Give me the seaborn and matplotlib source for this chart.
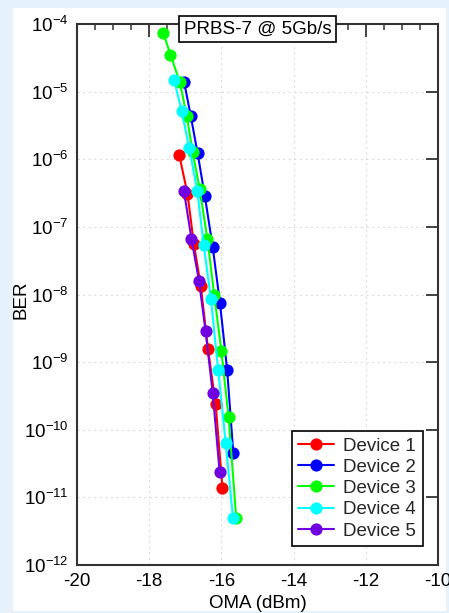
import numpy as np
import pandas as pd
import matplotlib
matplotlib.use("Agg")
import matplotlib.pyplot as plt
import seaborn as sns
from matplotlib.ticker import MultipleLocator, NullLocator, LogLocator
from matplotlib.patches import Rectangle

# ---- data ----
devices = ["Device 1", "Device 2", "Device 3", "Device 4", "Device 5"]
colors = ["#FF0000", "#0000FF", "#00FF00", "#00FFFF", "#7000E0"]

oma_d1 = [-17.17, -16.94, -16.76, -16.57, -16.37, -16.16, -15.97]
ber_d1 = [1.17e-6, 3.1e-7, 5.5e-8, 1.33e-8, 1.55e-9, 2.4e-10, 1.37e-11]

oma_d2 = [-17.03, -16.85, -16.66, -16.46, -16.24, -16.04, -15.84, -15.67]
ber_d2 = [1.37e-5, 4.4e-6, 1.23e-6, 2.9e-7, 5.0e-8, 7.5e-9, 7.6e-10, 4.5e-11]

oma_d3 = [-17.61, -17.41, -17.15, -16.96, -16.80, -16.60, -16.39, -16.20, -16.00, -15.80, -15.59]
ber_d3 = [7.4e-5, 3.5e-5, 1.37e-5, 4.4e-6, 1.3e-6, 3.6e-7, 6.7e-8, 1.0e-8, 1.45e-9, 1.53e-10, 5.0e-12]

oma_d4 = [-17.31, -17.10, -16.89, -16.67, -16.49, -16.29, -16.09, -15.88, -15.68]
ber_d4 = [1.49e-5, 5.1e-6, 1.47e-6, 3.45e-7, 5.4e-8, 8.5e-9, 7.7e-10, 6.3e-11, 5.0e-12]

oma_d5 = [-17.04, -16.83, -16.62, -16.44, -16.24, -16.05]
ber_d5 = [3.45e-7, 6.7e-8, 1.58e-8, 2.9e-9, 3.5e-10, 2.4e-11]

x_ticks = [-20, -18, -16, -14, -12, -10]
title_text = "PRBS-7 @ 5Gb/s"
x_label = "OMA (dBm)"
y_label = "BER"

oma_all = [oma_d1, oma_d2, oma_d3, oma_d4, oma_d5]
ber_all = [ber_d1, ber_d2, ber_d3, ber_d4, ber_d5]

df = pd.concat(
    [pd.DataFrame({"OMA": o, "BER": b, "Device": d}) for o, b, d in zip(oma_all, ber_all, devices)],
    ignore_index=True,
)

# ---- style ----
sns.set_theme(style="white")
plt.rcParams["font.family"] = ["Liberation Sans", "DejaVu Sans"]
plt.rcParams["mathtext.fontset"] = "custom"
plt.rcParams["mathtext.rm"] = "Liberation Sans"
plt.rcParams["mathtext.it"] = "Liberation Sans"

FS = 13.5
W, H = 449, 613
fig = plt.figure(figsize=(W / 100, H / 100), dpi=100, facecolor="#E6F2FB")
fig.patches.append(Rectangle((13 / W, 1 - 611 / H), (446 - 13) / W, (611 - 8) / H,
                             transform=fig.transFigure, facecolor="white", edgecolor="none", zorder=-10))

L, R, T, B = 77, 438, 24, 565
ax = fig.add_axes([L / W, 1 - B / H, (R - L) / W, (B - T) / H])
ax.set_zorder(1)
ax.set_facecolor("white")

for dev, col in zip(devices, colors):
    sub = df[df["Device"] == dev]
    sns.lineplot(data=sub, x="OMA", y="BER", color=col, marker="o", markersize=8.8,
                 markeredgewidth=0, linewidth=1.5, sort=False, label=dev, ax=ax)

ax.set_yscale("log")
ax.set_xlim(-20, -10)
ax.set_ylim(1e-12, 1e-4)
ax.set_xticks(x_ticks)
ax.set_xticklabels([str(t) for t in x_ticks])
ax.xaxis.set_minor_locator(MultipleLocator(0.5))
ax.yaxis.set_major_locator(LogLocator(base=10, numticks=20))
ax.yaxis.set_minor_locator(NullLocator())

ax.grid(True, which="major", color="#DDDDDD", linestyle=(0, (2, 3)), linewidth=0.8)
ax.set_axisbelow(True)

for s in ax.spines.values():
    s.set_color("#333333")
    s.set_linewidth(1.5)

ax.tick_params(axis="both", which="major", direction="in", length=9, width=1.3,
               color="#333333", top=True, right=True, labelsize=FS, pad=6, labelcolor="black")
ax.tick_params(axis="both", which="minor", direction="in", length=4.5, width=1.1,
               color="#333333", top=True, right=True)

ax.set_xlabel(x_label, fontsize=FS, color="black")
ax.set_ylabel(y_label, fontsize=FS, color="black")
ax.xaxis.set_label_coords(0.5, -0.055)
ax.yaxis.set_label_coords(-0.132, 0.49)

ax.text(0.5, 0.9908, title_text, transform=ax.transAxes, ha="center", va="center",
        fontsize=FS, color="black", zorder=10,
        bbox=dict(boxstyle="square,pad=0.25", facecolor="white", edgecolor="black", linewidth=1.2))

leg = ax.legend(loc="lower right", bbox_to_anchor=(0.958, 0.035), borderaxespad=0,
                fontsize=FS, frameon=True, fancybox=False, framealpha=1, edgecolor="black",
                handlelength=1.9, labelspacing=0.22, borderpad=0.35, handletextpad=0.5)
leg.get_frame().set_linewidth(1.2)

fig.savefig("out.png", dpi=100, facecolor=fig.get_facecolor())
